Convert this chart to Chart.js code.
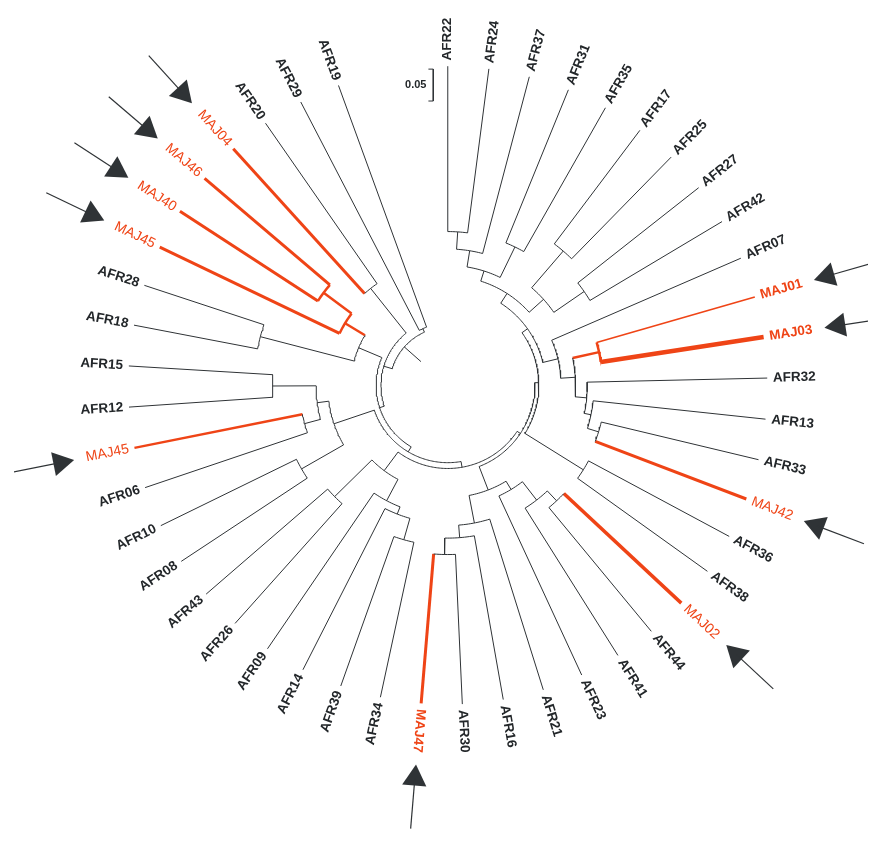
<!DOCTYPE html>
<html><head><meta charset="utf-8">
<script src="https://cdn.jsdelivr.net/npm/chart.js@4.4.1/dist/chart.umd.min.js"></script>
<style>html,body{margin:0;padding:0;background:#fff}#wrap{width:882px;height:848px;position:relative}</style>
</head><body><div id="wrap"><canvas id="c"></canvas></div>
<script>
// Leaves in clockwise order starting at the top (bearing 0)
const leafNames = ['AFR22','AFR24','AFR37','AFR31','AFR35','AFR17','AFR25','AFR27','AFR42','AFR07',
  'MAJ01','MAJ03','AFR32','AFR13','AFR33','MAJ42','AFR36','AFR38','MAJ02','AFR44',
  'AFR41','AFR23','AFR21','AFR16','AFR30','MAJ47','AFR34','AFR39','AFR14','AFR09',
  'AFR26','AFR43','AFR08','AFR10','AFR06','MAJ45#2','AFR12','AFR15','AFR18','AFR28',
  'MAJ45','MAJ40','MAJ46','MAJ04','AFR20','AFR29','AFR19'];
const leafWidths = [1,1,1,1,1,1,1,1,1,1,
  1.6,4.5,1,1,1,3,1,1,3.5,1,
  1,1,1,1,1,3,1,1,1,1,
  1,1,1,1,1,2.5,1,1,1,1,
  3,3,3,3,1,1,1];
const boldRed = ['MAJ01','MAJ03','MAJ47'];
const arrowLeaves = ['MAJ01','MAJ03','MAJ42','MAJ02','MAJ47','MAJ45#2','MAJ45','MAJ40','MAJ46','MAJ04'];

// Internal nodes: [id, child1, child2, radius of the node]
const nodes = [
  ['n2224','AFR22','AFR24',159], ['n37','n2224','AFR37',141], ['n3135','AFR31','AFR35',159],
  ['nX','n37','n3135',124], ['n1725','AFR17','AFR25',183], ['n2742','AFR27','AFR42',171],
  ['nY','n1725','n2742',133], ['nXY','nX','nY',113],
  ['n0103','MAJ01','MAJ03',160], ['nE','AFR33','MAJ42',163], ['nD','AFR13','nE',151],
  ['nC','AFR32','nD',144], ['nB','n0103','nC',132], ['nA','AFR07','nB',117], ['nP','nXY','nA',101],
  ['n3638','AFR36','AFR38',165],
  ['n0244','MAJ02','AFR44',164], ['n41','AFR41','n0244',150], ['n23','AFR23','n41',126],
  ['n3047','AFR30','MAJ47',175], ['n16','AFR16','n3047',158], ['n21','AFR21','n16',145], ['nM','n23','n21',116],
  ['n3439','AFR34','AFR39',166], ['n14','AFR14','n3439',143], ['n09','AFR09','n14',135],
  ['n2643','AFR26','AFR43',164], ['nH','n09','n2643',110],
  ['n0810','AFR08','AFR10',174], ['n0645','AFR06','MAJ45#2',153], ['n1215','AFR12','AFR15',181],
  ['nK','n0645','n1215',136], ['nJ','n0810','nK',124],
  ['n1828','AFR18','AFR28',200], ['n4046','MAJ40','MAJ46',160], ['nMAJ','MAJ45','n4046',124], ['nL','n1828','nMAJ',100],
  ['n0420','MAJ04','AFR20',128], ['n2919','AFR29','AFR19',64],
  ['Z5','nP','n3638',94], ['Z4','Z5','nM',90], ['Z3','Z4','nH',86], ['Z2','Z3','nJ',80],
  ['Z1','Z2','nL',74], ['Z0','Z1','n0420',69], ['root','Z0','n2919',60]
];

const SPAN = 340;              // degrees covered by leaves
const TIP_R = 330;             // aligned tip radius
const LABEL_R = 336;
const ROOT_STUB_END = 37;
const ARROW_APEX_R = 394, ARROW_HEAD = 14, ARROW_TAIL_R = 460;
const FLIP = 188;              // labels flip orientation past this bearing
const SCALE_LEN = 33, SCALE_LABEL = '0.05', SCALE_X = -15, SCALE_TOP = 327;

const RED = '#ef4416', DARK = '#2f3336', TEXT = '#23272a';
const STEP = SPAN / (leafNames.length - 1);

function polar(r, a) { const t = a * Math.PI / 180; return { x: r * Math.sin(t), y: r * Math.cos(t) }; }
const isMaj = n => n.startsWith('MAJ');
const labelOf = n => n.split('#')[0];

const info = {};
leafNames.forEach((n, i) => info[n] = { a: i * STEP, r: TIP_R, red: isMaj(n), w: leafWidths[i], leaf: true });
nodes.forEach(([id, c1, c2, r]) => {
  const A = info[c1], B = info[c2];
  info[id] = { a: (A.a + B.a) / 2, r, red: A.red && B.red, w: (A.red && B.red) ? 2.5 : 1, c: [c1, c2] };
});

const datasets = [];
function seg(points, color, width) {
  datasets.push({ data: points, showLine: true, borderColor: color, borderWidth: width,
    pointRadius: 0, fill: false, tension: 0, borderCapStyle: 'butt', borderJoinStyle: 'miter' });
}
nodes.forEach(([id, c1, c2]) => {
  const N = info[id];
  const a1 = Math.min(info[c1].a, info[c2].a), a2 = Math.max(info[c1].a, info[c2].a);
  const arc = [];
  const n = Math.max(2, Math.ceil(a2 - a1) + 1);
  for (let k = 0; k < n; k++) arc.push(polar(N.r, a1 + (a2 - a1) * k / (n - 1)));
  seg(arc, N.red ? RED : DARK, N.w);
  [c1, c2].forEach(c => {
    const C = info[c];
    seg([polar(N.r, C.a), polar(C.r, C.a)], C.red ? RED : DARK, C.w);
  });
});
// root stub
const R = info['root'];
seg([polar(R.r, R.a), polar(ROOT_STUB_END, R.a)], DARK, 1);
// scale bar
seg([{x: SCALE_X - 5, y: SCALE_TOP}, {x: SCALE_X, y: SCALE_TOP}, {x: SCALE_X, y: SCALE_TOP - SCALE_LEN}, {x: SCALE_X - 5, y: SCALE_TOP - SCALE_LEN}], DARK, 1);
// arrows
arrowLeaves.forEach(n => {
  const a = info[n].a;
  seg([polar(ARROW_TAIL_R, a), polar(ARROW_APEX_R + ARROW_HEAD, a)], DARK, 1.2);
  datasets.push({ data: [polar(ARROW_APEX_R + ARROW_HEAD, a)], showLine: false, pointStyle: 'triangle',
    pointRadius: ARROW_HEAD, pointRotation: a + 180, pointBackgroundColor: DARK, pointBorderWidth: 0, pointBorderColor: DARK });
});

const labelPlugin = {
  id: 'leafLabels',
  afterDatasetsDraw(chart) {
    const ctx = chart.ctx, xs = chart.scales.x, ys = chart.scales.y;
    leafNames.forEach((n, i) => {
      const a = info[n].a, p = polar(LABEL_R, a);
      const flip = a >= FLIP;
      ctx.save();
      ctx.translate(xs.getPixelForValue(p.x), ys.getPixelForValue(p.y));
      ctx.rotate((flip ? a + 90 : a - 90) * Math.PI / 180);
      ctx.textAlign = flip ? 'right' : 'left';
      ctx.textBaseline = 'middle';
      const maj = isMaj(n);
      const bold = !maj || boldRed.includes(labelOf(n));
      ctx.font = (bold ? 'bold 13.5px' : '14px') + ' "Liberation Sans", Arial, sans-serif';
      ctx.fillStyle = maj ? RED : TEXT;
      ctx.fillText(labelOf(n), 0, 0);
      ctx.restore();
    });
    ctx.save();
    ctx.font = 'bold 11px "Liberation Sans", Arial, sans-serif';
    ctx.fillStyle = TEXT; ctx.textAlign = 'right'; ctx.textBaseline = 'middle';
    ctx.fillText(SCALE_LABEL, xs.getPixelForValue(SCALE_X - 7), ys.getPixelForValue(SCALE_TOP - SCALE_LEN / 2));
    ctx.restore();
  }
};

new Chart(document.getElementById('c'), {
  type: 'scatter',
  data: { datasets },
  options: {
    responsive: true, maintainAspectRatio: false, animation: false, events: [],
    layout: { padding: 0 },
    plugins: { legend: { display: false }, tooltip: { enabled: false }, title: { display: false } },
    scales: {
      x: { type: 'linear', min: -448, max: 434, display: false },
      y: { type: 'linear', min: -464, max: 384, display: false }
    }
  },
  plugins: [labelPlugin]
});
</script></body></html>
